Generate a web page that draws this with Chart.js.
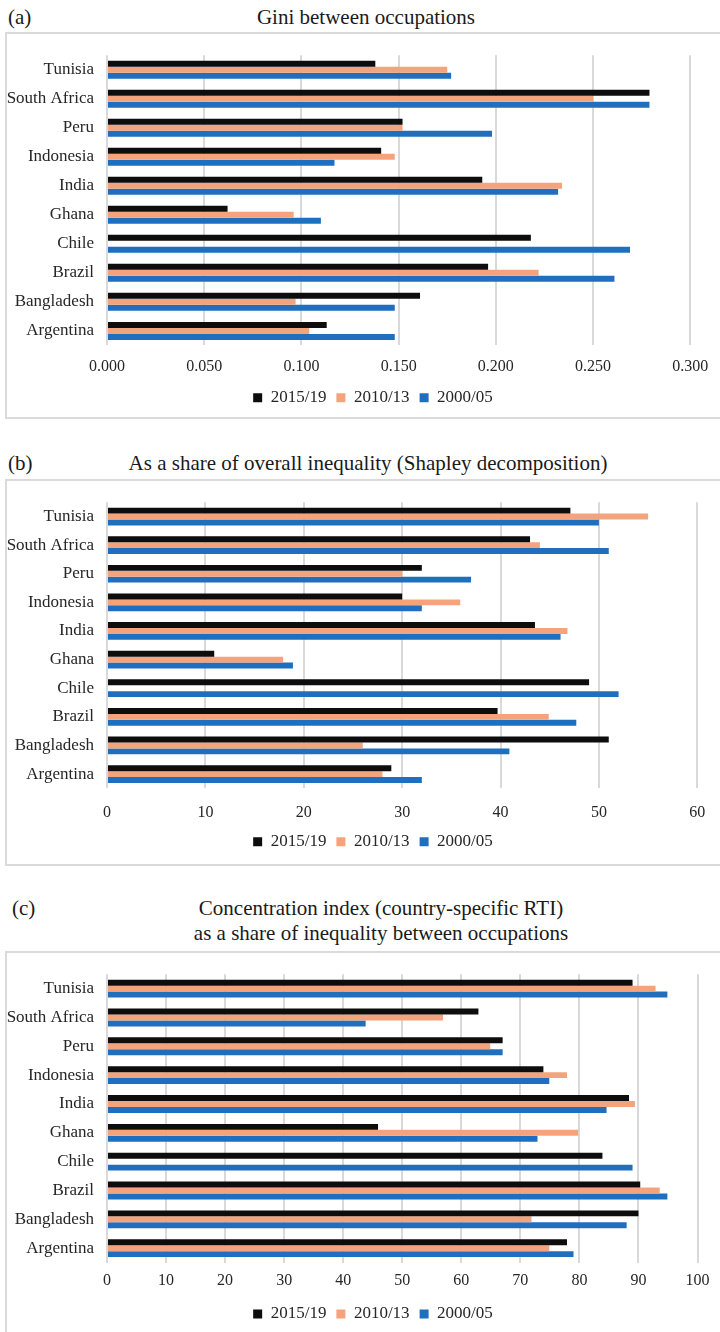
<!DOCTYPE html>
<html>
<head>
<meta charset="utf-8">
<script src="https://cdn.jsdelivr.net/npm/chart.js@4.4.1/dist/chart.umd.min.js"></script>
<style>
  html, body { margin: 0; padding: 0; background: #fff; overflow: hidden; }
  body { width: 720px; height: 1332px; position: relative; font-family: "Liberation Serif", "DejaVu Serif", serif; }
  .box { position: absolute; left: 5px; width: 740px; border: 2px solid #dadada; border-right: none; box-sizing: border-box; }
  .lbl, .ttl { position: absolute; font-size: 21px; color: #1a1a1a; line-height: 24px; white-space: nowrap; }
  .ttl { transform: translate(-50%, -50%); text-align: center; }
  .lbl { transform: translateY(-50%); }
  canvas { position: absolute; left: 0; }
</style>
</head>
<body>
<div class="box" style="top:32px;height:387px"></div>
<div class="box" style="top:479px;height:387px"></div>
<div class="box" style="top:951px;height:420px"></div>

<div class="lbl" style="left:8px;top:17px">(a)</div>
<div class="ttl" style="left:366px;top:17px">Gini between occupations</div>
<div class="lbl" style="left:8px;top:463px">(b)</div>
<div class="ttl" style="left:368px;top:463px">As a share of overall inequality (Shapley decomposition)</div>
<div class="lbl" style="left:12px;top:908px">(c)</div>
<div class="ttl" style="left:381px;top:908px">Concentration index (country-specific RTI)</div>
<div class="ttl" style="left:381px;top:933px">as a share of inequality between occupations</div>

<canvas id="chartA"></canvas>
<canvas id="chartB"></canvas>
<canvas id="chartC"></canvas>

<script>
// categories, top to bottom
const countries = ['Tunisia', 'South Africa', 'Peru', 'Indonesia', 'India', 'Ghana', 'Chile', 'Brazil', 'Bangladesh', 'Argentina'];
const periods = ['2015/19', '2010/13', '2000/05'];

// (a) Gini between occupations
const giniLate = [0.138, 0.279, 0.152, 0.141, 0.193, 0.062, 0.218, 0.196, 0.161, 0.113];
const giniMid = [0.175, 0.250, 0.152, 0.148, 0.234, 0.096, null, 0.222, 0.097, 0.104];
const giniEarly = [0.177, 0.279, 0.198, 0.117, 0.232, 0.110, 0.269, 0.261, 0.148, 0.148];
const giniTicks = [0, 0.05, 0.1, 0.15, 0.2, 0.25, 0.3];

// (b) share of overall inequality (Shapley)
const shapleyLate = [47.1, 43.0, 32.0, 30.0, 43.5, 10.9, 49.0, 39.7, 51.0, 28.9];
const shapleyMid = [55.0, 44.0, 30.0, 35.9, 46.8, 17.9, null, 44.9, 26.0, 28.0];
const shapleyEarly = [50.0, 51.0, 37.0, 32.0, 46.1, 18.9, 52.0, 47.7, 40.9, 32.0];
const shapleyTicks = [0, 10, 20, 30, 40, 50, 60];

// (c) concentration index as share of between-occupation inequality
const concLate = [89.0, 62.9, 67.0, 73.9, 88.4, 45.9, 83.9, 90.3, 90.0, 77.9];
const concMid = [92.9, 56.9, 64.9, 77.9, 89.4, 79.8, null, 93.6, 71.9, 74.9];
const concEarly = [94.9, 43.8, 67.0, 74.9, 84.6, 72.9, 89.0, 94.9, 88.0, 79.0];
const concTicks = [0, 10, 20, 30, 40, 50, 60, 70, 80, 90, 100];

const colors = ['#0d0d0d', '#f4a47c', '#1f6fbe'];
const FONT = "'Liberation Serif', 'DejaVu Serif', serif";
const TEXT = '#262626';
const LEGEND_CENTER = 373;

function makeChart(id, series, ticks, decimals, lay) {
    const legendH = 17 + 10 + 10;
    const xH = lay.legendY - lay.bottom - 18.5;
    const padTop = lay.top - lay.canvasTop;
    const h = Math.ceil(padTop + (lay.bottom - lay.top) + xH + legendH + 2);
    const padBottom = h - (padTop + (lay.bottom - lay.top) + xH + legendH);
    const padRight = 720 - lay.right;

    const canvas = document.getElementById(id);
    canvas.width = 720;
    canvas.height = h;
    canvas.style.top = lay.canvasTop + 'px';

    // move the legend so it sits where the original one is
    const legendShift = {
        id: 'legendShift',
        afterLayout(chart) {
            const lg = chart.legend;
            const d = LEGEND_CENTER - (lg.left + lg.right) / 2;
            lg.left += d;
            lg.right += d;
        }
    };

    return new Chart(canvas.getContext('2d'), {
        type: 'bar',
        data: {
            labels: countries,
            datasets: series.map((s, i) => ({
                label: periods[i],
                data: s,
                backgroundColor: colors[i],
                borderWidth: 0,
                categoryPercentage: 0.62,
                barPercentage: 1.0
            }))
        },
        plugins: [legendShift],
        options: {
            indexAxis: 'y',
            responsive: false,
            animation: false,
            devicePixelRatio: 1,
            layout: { padding: { left: 0, right: padRight, top: padTop, bottom: padBottom } },
            scales: {
                x: {
                    min: ticks[0],
                    max: ticks[ticks.length - 1],
                    afterBuildTicks: (scale) => { scale.ticks = ticks.map(v => ({ value: v })); },
                    afterFit: (scale) => { scale.height = xH; },
                    grid: { color: '#d9d9d9', lineWidth: 2, drawTicks: false },
                    border: { display: false },
                    ticks: {
                        padding: lay.tickY - lay.bottom - 9.6,
                        color: TEXT,
                        font: { family: FONT, size: 16 },
                        callback: (v) => Number(v).toFixed(decimals)
                    }
                },
                y: {
                    afterFit: (scale) => { scale.width = 107; },
                    grid: { display: false, drawTicks: false },
                    border: { display: false },
                    ticks: { padding: 13, color: TEXT, font: { family: FONT, size: 17 } }
                }
            },
            plugins: {
                legend: {
                    position: 'bottom',
                    labels: {
                        boxWidth: 9,
                        boxHeight: 9,
                        padding: 10,
                        color: TEXT,
                        font: { family: FONT, size: 17 }
                    }
                },
                tooltip: { enabled: false }
            }
        }
    });
}

makeChart('chartA', [giniLate, giniMid, giniEarly], giniTicks, 3,
    { canvasTop: 32, top: 51.8, bottom: 345.4, tickY: 366.7, legendY: 397.7, right: 692 });
makeChart('chartB', [shapleyLate, shapleyMid, shapleyEarly], shapleyTicks, 0,
    { canvasTop: 479, top: 498.5, bottom: 788.4, tickY: 812.7, legendY: 841.7, right: 700.5 });
makeChart('chartC', [concLate, concMid, concEarly], concTicks, 0,
    { canvasTop: 951, top: 971.4, bottom: 1262.6, tickY: 1280.7, legendY: 1314, right: 697.5 });
</script>
</body>
</html>
